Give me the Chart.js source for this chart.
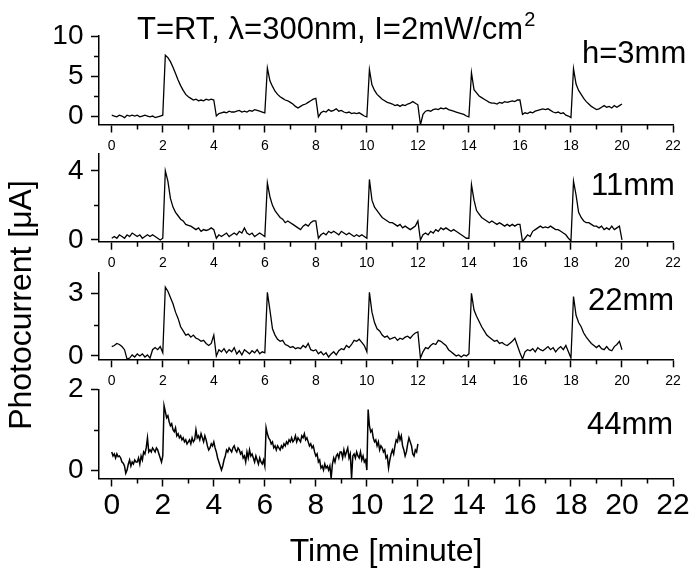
<!DOCTYPE html>
<html>
<head>
<meta charset="utf-8">
<script src="https://cdn.jsdelivr.net/npm/chart.js@4.4.0/dist/chart.umd.min.js"></script>
<style>
  html, body { margin: 0; padding: 0; background: #fff; }
  #wrap { position: relative; width: 700px; height: 575px; }
  #wrap canvas { position: absolute; left: 0; top: 0; }
</style>
</head>
<body>
<div id="wrap">
  <canvas id="p1" width="700" height="575"></canvas>
  <canvas id="p2" width="700" height="575"></canvas>
  <canvas id="p3" width="700" height="575"></canvas>
  <canvas id="p4" width="700" height="575"></canvas>
</div>
<script>
// x axis (minutes)
const xTicks = [0, 2, 4, 6, 8, 10, 12, 14, 16, 18, 20, 22];
const xMinor = [1, 3, 5, 7, 9, 11, 13, 15, 17, 19, 21];

// photocurrent traces, one value per sample (h=3..22mm every 0.1 min, h=44mm every 0.05 min)
const step3mm = 0.1;
const h3mm = [
  0.1,0.0,-0.1,0.1,0.0,-0.2,0.1,0.0,0.1,0.0,0.1,-0.1,0.0,0.1,0.0,-0.1,0.0,-0.2,-0.1,0.0,
  0.1,
  7.6,7.3,6.8,6.1,5.3,4.5,3.8,3.2,2.7,2.4,2.2,2.0,2.1,1.9,2.0,1.9,2.1,2.0,2.1,2.0,
  0.0,0.3,0.4,0.5,0.4,0.6,0.5,0.5,0.6,0.7,0.5,0.6,0.5,0.7,0.6,0.8,0.7,0.6,0.5,0.4,
  6.0,4.4,3.7,3.1,2.7,2.4,2.2,2.0,1.9,1.7,1.5,1.2,1.0,1.2,1.4,1.5,1.7,1.9,2.1,2.2,
  -0.1,0.4,0.6,0.5,0.8,0.6,0.7,0.9,0.6,0.7,0.5,0.4,0.5,0.3,0.4,0.3,0.4,0.2,0.0,-0.1,
  5.8,3.9,3.2,2.7,2.4,2.1,1.9,1.7,1.6,1.5,1.3,1.4,1.2,1.4,1.3,1.5,1.6,1.8,1.6,1.4,
  -1.1,0.2,0.6,0.7,0.6,0.8,0.9,0.8,1.0,0.9,1.0,0.8,0.7,0.6,0.5,0.4,0.3,0.2,0.0,-0.1,
  5.4,3.3,2.9,2.5,2.3,2.1,1.9,1.7,1.6,1.6,1.5,1.7,1.6,1.8,1.7,1.8,1.9,1.8,2.0,2.0,
  0.2,0.4,0.3,0.5,0.4,0.6,0.7,0.8,0.9,0.8,0.9,0.7,0.5,0.4,0.5,0.3,0.4,0.1,0.0,-0.2,
  5.9,4.0,3.2,2.7,2.2,1.8,1.5,1.2,1.0,0.8,0.9,1.1,1.3,1.1,1.2,1.0,1.3,1.1,1.3,1.5
];

const step11mm = 0.1;
const h11mm = [
  0.1,0.2,0.1,0.3,0.2,0.1,0.3,0.2,0.4,0.3,0.2,0.3,0.1,0.2,0.3,0.2,0.3,0.2,0.1,0.0,
  0.1,
  4.0,3.4,2.4,1.9,1.6,1.4,1.2,1.1,0.9,0.85,0.8,0.7,0.6,0.7,0.5,0.6,0.55,0.6,0.7,0.6,
  0.1,0.3,0.2,0.3,0.4,0.2,0.3,0.4,0.3,0.5,0.4,0.7,0.4,0.3,0.4,0.2,0.3,0.4,0.3,0.2,
  3.3,2.5,2.0,1.7,1.5,1.3,1.2,1.0,1.1,1.0,0.9,0.8,0.7,0.6,0.8,0.9,0.8,1.0,1.1,1.1,
  0.1,0.3,0.4,0.3,0.5,0.4,0.5,0.4,0.3,0.5,0.4,0.3,0.4,0.3,0.2,0.3,0.2,0.3,0.2,0.1,
  3.5,2.3,1.9,1.7,1.5,1.3,1.2,1.1,1.0,1.0,0.9,0.8,0.9,0.7,0.8,0.7,0.6,0.7,0.8,1.1,
  0.0,0.3,0.4,0.3,0.5,0.4,0.6,0.5,0.7,0.6,0.7,0.6,0.5,0.6,0.5,0.4,0.3,0.2,0.1,0.1,
  3.2,2.3,1.7,1.5,1.3,1.2,1.1,1.0,1.1,1.0,0.9,1.0,0.9,0.8,0.9,0.8,0.9,0.8,0.9,0.9,
  -0.1,0.1,0.3,0.2,0.5,0.6,0.7,0.8,0.7,0.75,0.7,0.8,0.7,0.6,0.6,0.5,0.4,0.3,0.1,-0.05,
  3.4,2.6,1.6,1.3,1.1,1.0,1.0,0.9,0.8,0.8,0.7,0.8,0.6,0.7,0.6,0.8,0.6,0.7,0.8,0.0
];

const step22mm = 0.1;
const h22mm = [
  0.45,0.5,0.6,0.55,0.45,0.3,-0.15,-0.1,0.05,-0.05,0.1,0.0,0.1,-0.05,0.05,-0.1,0.3,0.4,0.3,0.45,
  0.15,
  3.3,3.1,2.8,2.5,2.1,1.8,1.4,1.2,1.0,1.05,0.9,1.0,0.85,0.8,0.7,0.75,0.6,0.5,0.6,1.0,
  0.0,0.3,0.2,0.35,0.15,0.3,0.2,0.4,0.1,0.25,0.05,0.3,0.2,0.1,0.25,0.15,0.3,0.1,0.2,0.15,
  3.05,2.2,1.3,1.0,0.8,0.7,0.75,0.55,0.5,0.4,0.45,0.35,0.4,0.35,0.5,0.4,0.6,0.3,0.25,0.3,
  0.1,0.2,0.05,0.15,-0.05,0.1,0.2,0.05,0.25,0.35,0.3,0.5,0.4,0.55,0.75,0.7,0.8,0.65,0.5,0.2,
  3.05,2.1,1.6,1.3,1.2,1.0,0.9,0.95,0.8,0.85,0.9,0.75,0.85,0.8,0.9,0.95,0.85,1.0,1.1,1.15,
  -0.1,0.2,0.4,0.35,0.5,0.6,0.55,0.75,0.7,0.6,0.5,0.3,0.2,0.1,0.0,0.05,-0.05,0.05,0.0,0.1,
  3.0,2.2,1.9,1.65,1.4,1.2,1.0,0.9,0.8,0.7,0.75,0.6,0.65,0.55,0.5,0.6,0.7,0.85,0.5,0.15,
  -0.15,0.2,0.3,0.25,0.35,0.2,0.4,0.3,0.25,0.35,0.45,0.3,0.4,0.2,0.35,0.45,0.3,0.5,0.2,-0.1,
  2.85,1.95,1.6,1.4,1.1,0.9,0.75,0.6,0.5,0.4,0.5,0.35,0.3,0.45,0.3,0.25,0.45,0.55,0.7,0.3
];

const step44mm = 0.05;
const h44mm = [
  0.45,0.35,0.4,0.3,0.4,0.33,0.35,0.3,0.2,0.17,0.1,-0.08,0.0,0.15,0.25,0.1,0.2,0.15,0.25,0.2,
  0.2,0.3,0.15,0.35,0.25,0.45,0.4,0.55,0.8,0.45,0.5,0.45,0.55,0.5,0.45,0.55,0.5,0.4,0.3,0.2,
  0.35,1.6,1.45,1.3,1.35,1.2,1.1,1.15,1.0,0.95,1.05,0.85,0.9,0.8,0.85,0.75,0.8,0.7,0.75,0.65,
  0.7,0.75,0.65,0.8,0.7,0.75,1.0,0.8,0.85,0.75,0.9,0.8,0.7,0.85,0.75,0.6,0.5,0.55,0.65,0.6,
  0.7,0.55,0.45,0.3,0.2,0.1,0.0,0.1,0.25,0.35,0.5,0.45,0.55,0.5,0.45,0.55,0.6,0.5,0.45,0.55,
  0.5,0.4,0.45,0.3,0.35,0.2,0.45,0.3,0.5,0.35,0.4,0.3,0.2,0.35,0.25,0.15,0.3,0.2,0.15,0.25,
  0.1,1.05,0.9,0.8,0.75,0.65,0.7,0.55,0.6,0.5,0.6,0.55,0.5,0.6,0.55,0.65,0.6,0.7,0.65,0.75,
  0.7,0.8,0.7,0.75,0.85,0.7,0.8,0.75,0.7,0.85,0.8,0.9,0.75,0.8,0.7,0.6,0.65,0.55,0.6,0.45,
  0.35,0.4,0.2,0.25,0.05,0.1,0.0,0.15,0.05,0.1,0.0,0.1,-0.2,0.15,0.3,0.2,0.35,0.4,0.3,0.45,
  0.45,0.3,0.5,0.35,0.45,0.55,0.3,0.4,-0.2,0.35,0.4,0.3,0.45,0.35,0.3,0.45,0.25,0.35,0.2,0.25,
  0.0,1.5,1.1,0.95,1.0,0.8,0.7,0.75,0.6,0.7,0.5,0.6,0.55,0.45,0.5,0.3,0.35,0.05,0.25,0.4,
  0.5,0.4,0.6,0.75,0.7,0.9,0.75,0.85,0.6,0.5,0.35,0.45,0.65,0.8,0.7,0.6,0.4,0.35,0.5,0.45,
  0.65
];

const FONT = '"Liberation Sans", Arial, Helvetica, sans-serif';
const H = 575;

// minor tick marks (Chart.js has none built in)
const minorTicks = {
  id: 'minorTicks',
  afterDraw(chart, args, opts) {
    const { ctx, scales: { x, y } } = chart;
    ctx.save();
    ctx.strokeStyle = '#000';
    ctx.lineWidth = 1.5;
    ctx.beginPath();
    opts.xs.forEach(v => {
      const px = Math.round(x.getPixelForValue(v)) + 0.5;
      ctx.moveTo(px, x.top);
      ctx.lineTo(px, x.top + opts.len);
    });
    opts.ys.forEach(v => {
      const py = Math.round(y.getPixelForValue(v)) + 0.5;
      ctx.moveTo(y.right, py);
      ctx.lineTo(y.right - opts.len, py);
    });
    ctx.stroke();
    ctx.restore();
  }
};

// free text: title, panel labels, shared y title
const panelText = {
  id: 'panelText',
  afterDraw(chart, args, opts) {
    const ctx = chart.ctx;
    (opts.items || []).forEach(it => {
      ctx.save();
      ctx.fillStyle = '#000';
      ctx.font = it.size + 'px ' + FONT;
      ctx.textBaseline = 'alphabetic';
      ctx.textAlign = it.align || 'left';
      ctx.translate(it.x, it.y);
      if (it.rot) ctx.rotate(it.rot);
      ctx.fillText(it.text, 0, 0);
      if (it.sup) {
        const w = ctx.measureText(it.text).width;
        ctx.font = it.supSize + 'px ' + FONT;
        ctx.fillText(it.sup, w + 1, -it.supRise);
      }
      ctx.restore();
    });
  }
};

const panels = [
  { id: 'p1', values: h3mm, step: step3mm, yMin: -1.06, yMax: 10, yTicks: [0, 5, 10], yMinor: [2.5, 7.5],
    top: 36, axisY: 124.5,
    text: [
      { text: 'T=RT, \u03bb=300nm, I=2mW/cm', sup: '2', supSize: 20, supRise: 13, size: 31, x: 137, y: 39 },
      { text: 'h=3mm', size: 31, x: 582, y: 63 },
      { text: 'Photocurrent [\u03bcA]', size: 32, x: 31, y: 305, align: 'center', rot: -Math.PI / 2 }
    ] },
  { id: 'p2', values: h11mm, step: step11mm, yMin: -0.1, yMax: 5, yTicks: [0, 4], yMinor: [2],
    top: 153.5, axisY: 241.7,
    text: [{ text: '11mm', size: 31, x: 591, y: 195 }] },
  { id: 'p3', values: h22mm, step: step22mm, yMin: -0.16, yMax: 4, yTicks: [0, 3], yMinor: [1.5],
    top: 272.5, axisY: 359.3,
    text: [{ text: '22mm', size: 31, x: 588, y: 310 }] },
  { id: 'p4', values: h44mm, step: step44mm, yMin: -0.21, yMax: 2, yTicks: [0, 2], yMinor: [1],
    top: 389.5, axisY: 478.5, bottomAxis: true,
    text: [{ text: '44mm', size: 31, x: 587, y: 434 }] }
];

const gridOpts = { drawOnChartArea: false, drawTicks: true, tickLength: 8, tickColor: '#000', tickWidth: 1.5 };
const borderOpts = { display: true, color: '#000', width: 1.5 };

panels.forEach(p => {
  const pts = p.values.map((v, i) => ({ x: i * p.step, y: v }));
  new Chart(document.getElementById(p.id), {
    type: 'line',
    data: {
      datasets: [{
        data: pts,
        borderColor: '#000',
        borderWidth: p.bottomAxis ? 1.5 : 1.3,
        pointRadius: 0,
        tension: 0,
        fill: false
      }]
    },
    options: {
      responsive: false,
      animation: false,
      events: [],
      layout: { padding: { top: p.top, right: 27, left: 0, bottom: 0 } },
      plugins: {
        legend: { display: false },
        tooltip: { enabled: false },
        minorTicks: { xs: xMinor, ys: p.yMinor, len: 5 },
        panelText: { items: p.text }
      },
      scales: {
        x: {
          type: 'linear',
          min: -0.5,
          max: 22,
          afterBuildTicks: s => { s.ticks = xTicks.map(v => ({ value: v })); },
          afterFit: s => { s.height = H - p.axisY; },
          grid: gridOpts,
          border: borderOpts,
          ticks: {
            color: '#000',
            autoSkip: false,
            maxRotation: 0,
            font: { family: FONT, size: p.bottomAxis ? 30 : 14 },
            padding: p.bottomAxis ? 1.5 : 5,
            callback: v => String(v)
          },
          title: p.bottomAxis
            ? { display: true, text: 'Time [minute]', color: '#000', font: { family: FONT, size: 32 }, padding: { top: 0, bottom: 4 } }
            : { display: false }
        },
        y: {
          type: 'linear',
          min: p.yMin,
          max: p.yMax,
          afterBuildTicks: s => { s.ticks = p.yTicks.map(v => ({ value: v })); },
          afterFit: s => { s.width = 99; },
          grid: gridOpts,
          border: borderOpts,
          ticks: {
            color: '#000',
            font: { family: FONT, size: 28 },
            padding: 7.5,
            callback: v => String(v)
          }
        }
      }
    },
    plugins: [minorTicks, panelText]
  });
});
</script>
</body>
</html>
